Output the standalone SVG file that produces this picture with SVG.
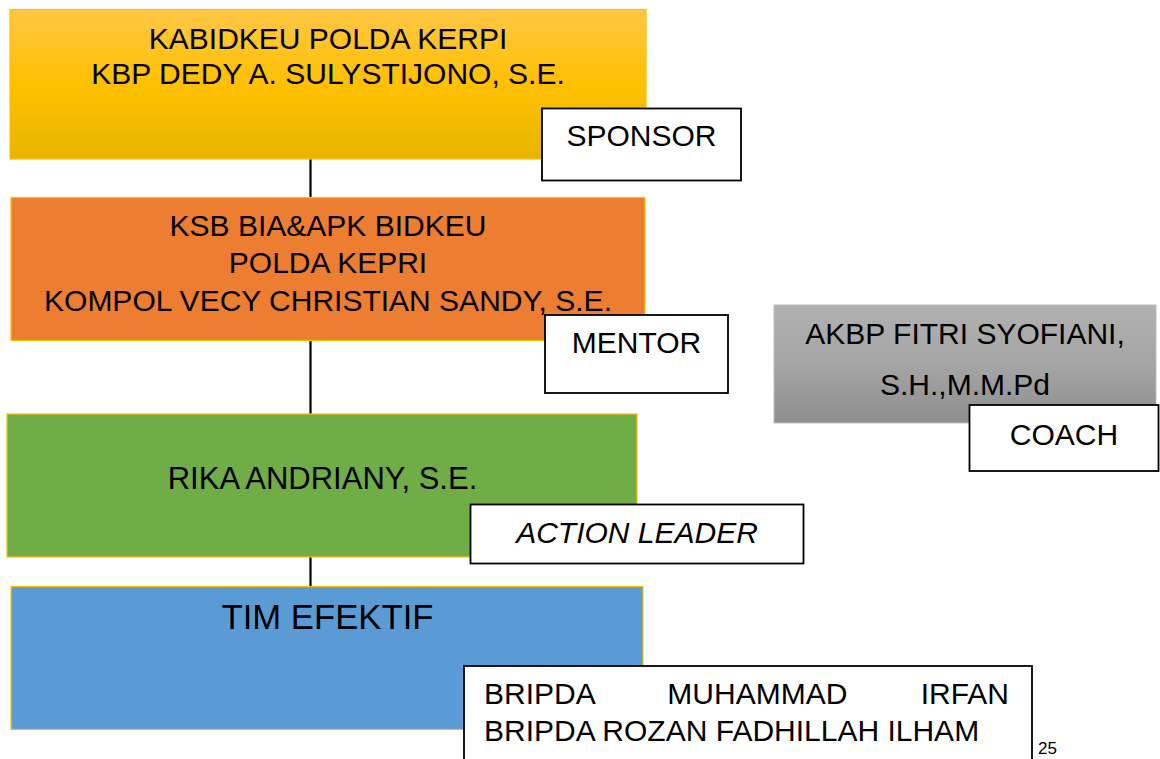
<svg xmlns="http://www.w3.org/2000/svg" width="1160" height="759" viewBox="0 0 1160 759">
  <defs>
    <linearGradient id="gYellow" x1="0" y1="0" x2="0" y2="1">
      <stop offset="0" stop-color="#FFC746"/>
      <stop offset="0.5" stop-color="#FFC000"/>
      <stop offset="1" stop-color="#E5B600"/>
    </linearGradient>
    <linearGradient id="gGray" x1="0" y1="0" x2="0" y2="1">
      <stop offset="0" stop-color="#B1B1B1"/>
      <stop offset="0.5" stop-color="#A5A5A5"/>
      <stop offset="1" stop-color="#8E8E8E"/>
    </linearGradient>
  </defs>
  <style>
    .t { font-family: "Liberation Sans", Arial, sans-serif; font-size: 30px; fill: #000; }
    .c { text-anchor: middle; }
    .main { stroke: #FFC000; stroke-width: 1.2; }
    .label { fill: #FFFFFF; stroke: #000; stroke-width: 1.8; }
    .conn { stroke: #000; stroke-width: 2.2; fill: none; }
  </style>
  <rect width="1160" height="759" fill="#FFFFFF"/>

  <g id="connectors">
    <line class="conn" x1="310.5" y1="159" x2="310.5" y2="198"/>
    <line class="conn" x1="310.5" y1="340" x2="310.5" y2="414"/>
    <line class="conn" x1="310.5" y1="557" x2="310.5" y2="587"/>
  </g>

  <text class="t" x="1057" y="754" text-anchor="end" style="font-size:17px">25</text>

  <g id="sponsor-node">
    <rect class="main" x="10" y="9.5" width="636" height="149.5" fill="url(#gYellow)" stroke="#FFD24D"/>
    <text class="t c" x="328" y="48.5">KABIDKEU POLDA KERPI</text>
    <text class="t c" x="328" y="84">KBP DEDY A. SULYSTIJONO, S.E.</text>
  </g>
  <g id="sponsor-label">
    <rect class="label" x="542" y="108.5" width="199" height="72"/>
    <text class="t c" x="641.5" y="146">SPONSOR</text>
  </g>

  <g id="mentor-node">
    <rect class="main" x="11" y="197.5" width="634" height="143" fill="#ED7D31"/>
    <text class="t c" x="328" y="235.5">KSB BIA&amp;APK BIDKEU</text>
    <text class="t c" x="328" y="273">POLDA KEPRI</text>
    <text class="t c" x="328" y="310.5">KOMPOL VECY CHRISTIAN SANDY, S.E.</text>
  </g>
  <g id="mentor-label">
    <rect class="label" x="545" y="315" width="183" height="78"/>
    <text class="t c" x="636.5" y="353">MENTOR</text>
  </g>

  <g id="coach-node">
    <rect x="774" y="305" width="382" height="118" fill="url(#gGray)" stroke="#BDBDBD" stroke-width="1"/>
    <text class="t c" x="965" y="343.5">AKBP FITRI SYOFIANI,</text>
    <text class="t c" x="965" y="395">S.H.,M.M.Pd</text>
  </g>
  <g id="coach-label">
    <rect class="label" x="969.5" y="405" width="189" height="66"/>
    <text class="t c" x="1064" y="445">COACH</text>
  </g>

  <g id="leader-node">
    <rect class="main" x="7" y="414" width="630" height="143" fill="#70AD47"/>
    <text class="t c" x="322.5" y="489" style="font-size:31px">RIKA ANDRIANY, S.E.</text>
  </g>
  <g id="leader-label">
    <rect class="label" x="470.5" y="504.5" width="333" height="59"/>
    <text class="t c" x="637" y="543" font-style="italic">ACTION LEADER</text>
  </g>

  <g id="team-node">
    <rect class="main" x="11" y="586.5" width="632" height="143" fill="#5B9BD5"/>
    <text class="t c" x="327.5" y="628.5" style="font-size:34.7px">TIM EFEKTIF</text>
  </g>
  <g id="team-label">
    <rect class="label" x="464" y="666" width="568" height="110"/>
    <text class="t" x="484" y="704" word-spacing="65">BRIPDA MUHAMMAD IRFAN</text>
    <text class="t" x="484" y="741">BRIPDA ROZAN FADHILLAH ILHAM</text>
  </g>
</svg>
